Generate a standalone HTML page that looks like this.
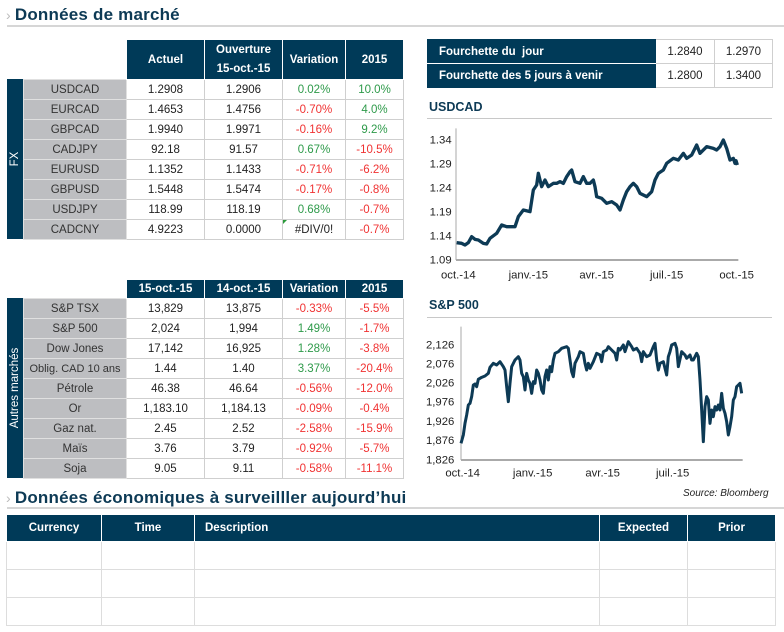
<!DOCTYPE html>
<html><head><meta charset="utf-8">
<style>
body{margin:0;width:784px;height:632px;background:#fff;font-family:"Liberation Sans",sans-serif;position:relative;overflow:hidden}
.a{position:absolute}
.title{color:#0d3a55;font-weight:bold;font-size:17px;letter-spacing:0.2px}
.hl{position:absolute;height:2px;background:#d6d6d6}
table{border-collapse:collapse;position:absolute;table-layout:fixed}
td{padding:0;text-align:center;font-size:11.5px;color:#222;border:1px solid #cfcfcf;white-space:nowrap;overflow:hidden}
th{background:#003a58;color:#fff;font-size:11.5px;font-weight:bold;border:1px solid #fff;padding:0}
.g{color:#2e9a4a}.r{color:#f03232}
.lab{background:#bdbec1;color:#333;border:1px solid #e0e0e0}
.side{position:absolute;background:#003a58;color:#fff;font-size:11.5px;}
.side span{position:absolute;left:50%;top:50%;transform:translate(-50%,-50%) rotate(-90deg);white-space:nowrap}
.chev{color:#bbb;font-size:14px;font-weight:normal;margin-right:4px}
svg text{font-family:"Liberation Sans",sans-serif}
</style></head><body>

<div class="a title" style="left:6px;top:5px"><span class="chev">&#x203A;</span>Données de marché</div>
<div class="hl" style="left:7px;top:25px;width:777px"></div>

<!-- FX table -->
<div class="side" style="left:7px;top:79px;width:16px;height:160px"><span>FX</span></div>
<table style="left:23px;top:39px;width:380px">
<colgroup><col style="width:103px"><col style="width:78px"><col style="width:78px"><col style="width:63px"><col style="width:58px"></colgroup>
<tr style="height:40px"><td style="border:none"></td><th>Actuel</th><th style="line-height:19px">Ouverture<br>15-oct.-15</th><th>Variation</th><th>2015</th></tr>
<tr style="height:20px"><td class="lab">USDCAD</td><td>1.2908</td><td>1.2906</td><td class="g">0.02%</td><td class="g">10.0%</td></tr>
<tr style="height:20px"><td class="lab">EURCAD</td><td>1.4653</td><td>1.4756</td><td class="r">-0.70%</td><td class="g">4.0%</td></tr>
<tr style="height:20px"><td class="lab">GBPCAD</td><td>1.9940</td><td>1.9971</td><td class="r">-0.16%</td><td class="g">9.2%</td></tr>
<tr style="height:20px"><td class="lab">CADJPY</td><td>92.18</td><td>91.57</td><td class="g">0.67%</td><td class="r">-10.5%</td></tr>
<tr style="height:20px"><td class="lab">EURUSD</td><td>1.1352</td><td>1.1433</td><td class="r">-0.71%</td><td class="r">-6.2%</td></tr>
<tr style="height:20px"><td class="lab">GBPUSD</td><td>1.5448</td><td>1.5474</td><td class="r">-0.17%</td><td class="r">-0.8%</td></tr>
<tr style="height:20px"><td class="lab">USDJPY</td><td>118.99</td><td>118.19</td><td class="g">0.68%</td><td class="r">-0.7%</td></tr>
<tr style="height:20px"><td class="lab">CADCNY</td><td>4.9223</td><td>0.0000</td><td>#DIV/0!</td><td class="r">-0.7%</td></tr>
</table>
<div class="a" style="left:283px;top:220px;width:0;height:0;border-top:4px solid #2a9a3a;border-right:4px solid transparent"></div>

<!-- Other markets -->
<div class="side" style="left:7px;top:298px;width:16px;height:180px"><span>Autres marchés</span></div>
<table style="left:23px;top:279px;width:380px">
<colgroup><col style="width:103px"><col style="width:78px"><col style="width:78px"><col style="width:63px"><col style="width:58px"></colgroup>
<tr style="height:19px"><td style="border:none"></td><th>15-oct.-15</th><th>14-oct.-15</th><th>Variation</th><th>2015</th></tr>
<tr style="height:20px"><td class="lab">S&amp;P TSX</td><td>13,829</td><td>13,875</td><td class="r">-0.33%</td><td class="r">-5.5%</td></tr>
<tr style="height:20px"><td class="lab">S&amp;P 500</td><td>2,024</td><td>1,994</td><td class="g">1.49%</td><td class="r">-1.7%</td></tr>
<tr style="height:20px"><td class="lab">Dow Jones</td><td>17,142</td><td>16,925</td><td class="g">1.28%</td><td class="r">-3.8%</td></tr>
<tr style="height:20px"><td class="lab" style="font-size:11px">Oblig. CAD 10 ans</td><td>1.44</td><td>1.40</td><td class="g">3.37%</td><td class="r">-20.4%</td></tr>
<tr style="height:20px"><td class="lab">Pétrole</td><td>46.38</td><td>46.64</td><td class="r">-0.56%</td><td class="r">-12.0%</td></tr>
<tr style="height:20px"><td class="lab">Or</td><td>1,183.10</td><td>1,184.13</td><td class="r">-0.09%</td><td class="r">-0.4%</td></tr>
<tr style="height:20px"><td class="lab">Gaz nat.</td><td>2.45</td><td>2.52</td><td class="r">-2.58%</td><td class="r">-15.9%</td></tr>
<tr style="height:20px"><td class="lab">Maïs</td><td>3.76</td><td>3.79</td><td class="r">-0.92%</td><td class="r">-5.7%</td></tr>
<tr style="height:20px"><td class="lab">Soja</td><td>9.05</td><td>9.11</td><td class="r">-0.58%</td><td class="r">-11.1%</td></tr>
</table>

<!-- Fourchette -->
<table style="left:427px;top:39px;width:345px">
<colgroup><col style="width:228px"><col style="width:59px"><col style="width:58px"></colgroup>
<tr style="height:24px"><th style="text-align:left;padding-left:11px;border-color:#003a58 #003a58 #fff #003a58">Fourchette du&nbsp; jour</th><td>1.2840</td><td>1.2970</td></tr>
<tr style="height:24px"><th style="text-align:left;padding-left:11px;border-color:#fff #003a58 #003a58 #003a58">Fourchette des 5 jours à venir</th><td>1.2800</td><td>1.3400</td></tr>
</table>

<div class="a" style="left:429px;top:100px;color:#0d3a55;font-weight:bold;font-size:12.5px">USDCAD</div>
<div class="hl" style="left:427px;top:118px;width:345px;height:1px;background:#c8c8c8"></div>

<svg class="a" style="left:420px;top:30px" width="364" height="260" viewBox="0 0 1092 780">
<g font-size="34" fill="#222" text-anchor="end">
<text x="95" y="341">1.34</text><text x="95" y="413">1.29</text><text x="95" y="485">1.24</text><text x="95" y="557">1.19</text><text x="95" y="629">1.14</text><text x="95" y="701">1.09</text>
</g>
<g font-size="34" fill="#222" text-anchor="middle">
<text x="115" y="745">oct.-14</text><text x="325" y="745">janv.-15</text><text x="530" y="745">avr.-15</text><text x="740" y="745">juil.-15</text><text x="950" y="745">oct.-15</text>
</g>
<line x1="108" y1="295" x2="108" y2="690" stroke="#aaa" stroke-width="3"/>
<line x1="108" y1="690" x2="955" y2="690" stroke="#aaa" stroke-width="6"/>
<polyline fill="none" stroke="#0d3a55" stroke-width="10" stroke-linejoin="round" points="110,638 125,640 135,645 145,638 155,620 165,628 175,630 190,640 200,642 210,625 230,610 245,585 260,590 285,590 295,560 310,540 330,545 340,480 350,465 355,430 365,470 375,450 385,470 400,460 410,460 420,455 430,460 440,440 450,425 455,420 465,455 480,460 490,440 500,460 510,460 520,450 525,470 530,500 545,505 560,520 575,515 590,525 600,540 610,510 620,485 630,470 640,460 650,470 660,490 670,495 680,500 695,485 705,450 715,430 730,420 740,400 760,385 775,390 790,370 800,385 815,375 830,345 840,370 860,350 880,355 890,360 900,350 910,330 920,355 930,390 940,385 945,400 948,392 952,405"/>
</svg>

<div class="a" style="left:429px;top:298px;color:#0d3a55;font-weight:bold;font-size:12.5px">S&amp;P 500</div>
<div class="hl" style="left:427px;top:317px;width:345px;height:1px;background:#c8c8c8"></div>

<svg class="a" style="left:420px;top:290px" width="364" height="210" viewBox="0 0 1092 630">
<g font-size="34" fill="#222" text-anchor="end">
<text x="103" y="175">2,126</text><text x="103" y="232">2,076</text><text x="103" y="290">2,026</text><text x="103" y="347">1,976</text><text x="103" y="405">1,926</text><text x="103" y="462">1,876</text><text x="103" y="520">1,826</text>
</g>
<g font-size="34" fill="#222" text-anchor="middle">
<text x="128" y="560">oct.-14</text><text x="338" y="560">janv.-15</text><text x="548" y="560">avr.-15</text><text x="758" y="560">juil.-15</text>
</g>
<line x1="123" y1="110" x2="123" y2="510" stroke="#aaa" stroke-width="3"/>
<line x1="123" y1="510" x2="968" y2="510" stroke="#aaa" stroke-width="6"/>
<polyline fill="none" stroke="#0d3a55" stroke-width="9" stroke-linejoin="round" points="123,460 130,435 135,400 140,375 145,345 150,340 155,320 160,285 165,282 170,290 175,268 185,262 195,258 205,250 210,232 220,220 230,225 240,215 250,230 255,240 260,290 265,335 270,280 275,230 285,210 295,200 300,210 305,250 310,260 315,300 320,250 325,270 330,280 335,310 340,275 345,280 350,240 355,250 360,270 365,300 370,310 375,260 380,240 385,270 390,230 395,245 400,210 405,190 415,185 425,175 440,170 445,175 450,210 455,245 460,260 465,220 470,210 475,200 480,185 490,190 495,220 500,240 505,220 510,235 520,215 530,190 540,195 545,215 550,185 560,180 565,170 575,180 585,190 590,210 595,175 600,180 610,165 615,185 625,155 635,170 640,180 650,175 660,190 665,215 670,185 680,200 690,195 700,170 705,160 710,210 715,240 720,220 730,215 740,255 745,200 750,185 755,165 765,160 770,175 775,230 785,185 795,195 800,205 810,195 815,210 820,210 825,200 830,190 835,200 840,270 845,360 850,455 855,350 860,320 865,330 870,400 875,360 880,380 885,350 890,360 895,345 900,360 905,310 910,355 915,370 920,395 925,435 930,410 935,380 940,330 945,320 950,290 955,285 960,280 965,310"/>
</svg>

<div class="a" style="left:683px;top:488px;font-size:10px;font-style:italic;color:#222">Source: Bloomberg</div>

<div class="a title" style="left:6px;top:488px"><span class="chev">&#x203A;</span>Données économiques à surveilller aujourd’hui</div>
<div class="hl" style="left:7px;top:507px;width:777px"></div>

<table style="left:6px;top:514px;width:769px">
<colgroup><col style="width:95px"><col style="width:93px"><col style="width:405px"><col style="width:88px"><col style="width:88px"></colgroup>
<tr style="height:27px"><th>Currency</th><th>Time</th><th style="text-align:left;padding-left:10px">Description</th><th>Expected</th><th>Prior</th></tr>
<tr style="height:28px"><td style="border-color:#ddd"></td><td style="border-color:#ddd"></td><td style="border-color:#ddd"></td><td style="border-color:#ddd"></td><td style="border-color:#ddd"></td></tr>
<tr style="height:28px"><td style="border-color:#ddd"></td><td style="border-color:#ddd"></td><td style="border-color:#ddd"></td><td style="border-color:#ddd"></td><td style="border-color:#ddd"></td></tr>
<tr style="height:28px"><td style="border-color:#ddd"></td><td style="border-color:#ddd"></td><td style="border-color:#ddd"></td><td style="border-color:#ddd"></td><td style="border-color:#ddd"></td></tr>
</table>
</body></html>
